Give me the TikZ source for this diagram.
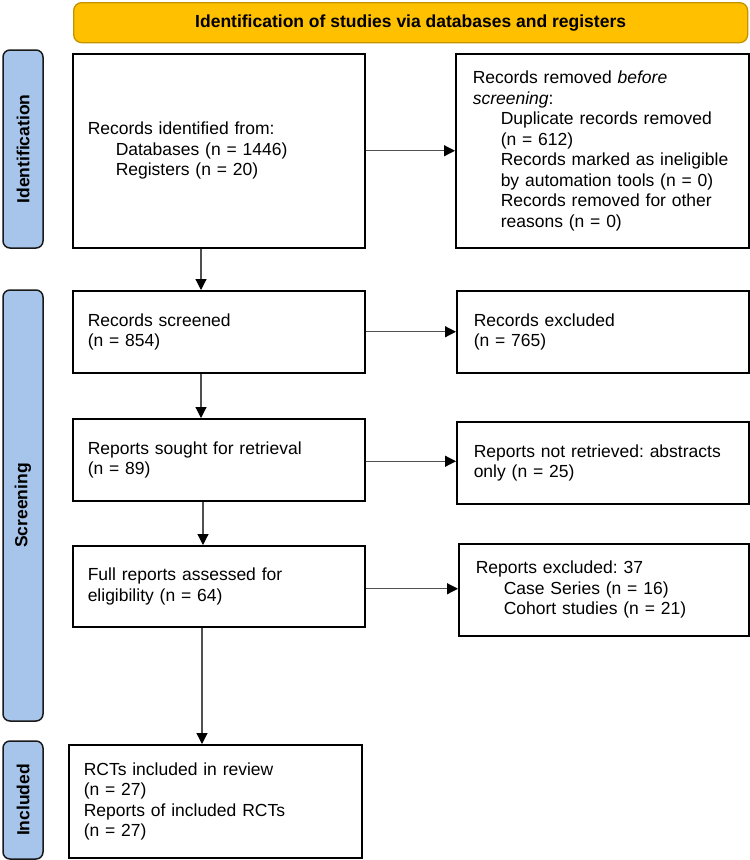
\documentclass[tikz,border=0pt]{standalone}
\usepackage{fontspec}
\setmainfont{Liberation Sans}
\usetikzlibrary{arrows.meta,calc}
\definecolor{gold}{HTML}{FFC000}
\definecolor{golddark}{HTML}{C39300}
\definecolor{lblue}{HTML}{A7C5EA}
\definecolor{linegray}{HTML}{505050}
\newcommand{\mysize}{\fontsize{17.5pt}{20.5pt}\selectfont\frenchspacing}
\newcommand{\ind}{\hspace*{28pt}}
\begin{document}
\begin{tikzpicture}[x=1pt,y=1pt,
  box/.style={draw=black, line width=1.5pt, rectangle, anchor=north west, align=left, inner ysep=0pt, font=\mysize},
  lbox/.style={box, inner xsep=15pt},
  rbox/.style={box, inner xsep=17pt},
  sidelab/.style={draw=black!90, line width=1.5pt, fill=lblue, rounded corners=7pt, minimum height=40pt, inner sep=0pt, font=\mysize\bfseries, rotate=90},
  arr/.style={draw=linegray, line width=1.2pt, -{Triangle[length=11pt,width=11pt,fill=black,color=black]}}
]
\useasboundingbox (0,0) rectangle (750,-860);

% banner
\node[draw=golddark, line width=1.3pt, fill=gold, rounded corners=8pt, anchor=north west, minimum width=674pt, minimum height=40pt, inner sep=0pt, font=\mysize\bfseries] (ban) at (73,-2) {Identification of studies via databases and registers};

% side labels
\node[sidelab, minimum width=198pt] (lab1) at (23,-149) {Identification};
\node[sidelab, minimum width=431pt] (lab2) at (23,-505.5) {Screening};
\node[sidelab, minimum width=118pt] (lab3) at (23,-800) {Included};

% left column
\node[lbox, minimum width=292pt, minimum height=194pt, text width=262pt] (b1) at (72,-53)
  {Records identified from:\\\ind Databases (n = 1446)\\\ind Registers (n = 20)};
\node[lbox, minimum width=292pt, minimum height=82pt, text width=262pt] (b2) at (72,-290)
  {Records screened\\(n = 854)};
\node[lbox, minimum width=292pt, minimum height=82pt, text width=262pt] (b3) at (72,-418)
  {Reports sought for retrieval\\(n = 89)};
\node[lbox, minimum width=292pt, minimum height=81pt, text width=262pt] (b4) at (72,-545)
  {Full reports assessed for\\eligibility (n = 64)};
\node[lbox, minimum width=293pt, minimum height=113pt, text width=263pt] (b5) at (68,-744)
  {RCTs included in review\\(n = 27)\\Reports of included RCTs\\(n = 27)};

% right column
\node[rbox, minimum width=293pt, minimum height=194pt, text width=259pt] (r1) at (455,-53)
  {Records removed \textit{before}\\\textit{screening}:\\\ind Duplicate records removed\\\ind (n = 612)\\\ind Records marked as ineligible\\\ind by automation tools (n = 0)\\\ind Records removed for other\\\ind reasons (n = 0)};
\node[rbox, minimum width=292pt, minimum height=82pt, text width=258pt] (r2) at (456,-290)
  {Records excluded\\(n = 765)};
\node[rbox, minimum width=292pt, minimum height=82pt, text width=258pt] (r3) at (456,-421)
  {Reports not retrieved: abstracts\\only (n = 25)};
\node[rbox, minimum width=290pt, minimum height=92pt, text width=256pt] (r4) at (458,-543)
  {Reports excluded: 37\\\ind Case Series (n = 16)\\\ind Cohort studies (n = 21)};

% horizontal arrows
\draw[arr] (b1.east) -- (r1.west);
\draw[arr] (b2.east) -- (r2.west);
\draw[arr] ([yshift=-1.5pt]b3.east) -- ([yshift=-1.5pt]b3.east -| r3.west);
\draw[arr] ([yshift=-2.5pt]b4.east) -- ([yshift=-2.5pt]b4.east -| r4.west);

% vertical arrows
\draw[arr] ([xshift=129pt]b1.south west) -- ([xshift=129pt]b2.north west);
\draw[arr] ([xshift=129pt]b2.south west) -- ([xshift=129pt]b3.north west);
\draw[arr] ([xshift=131pt]b3.south west) -- ([xshift=131pt]b4.north west);
\draw[arr] ([xshift=130pt]b4.south west) -- ([xshift=130pt]b4.south west |- b5.north);
\end{tikzpicture}
\end{document}
